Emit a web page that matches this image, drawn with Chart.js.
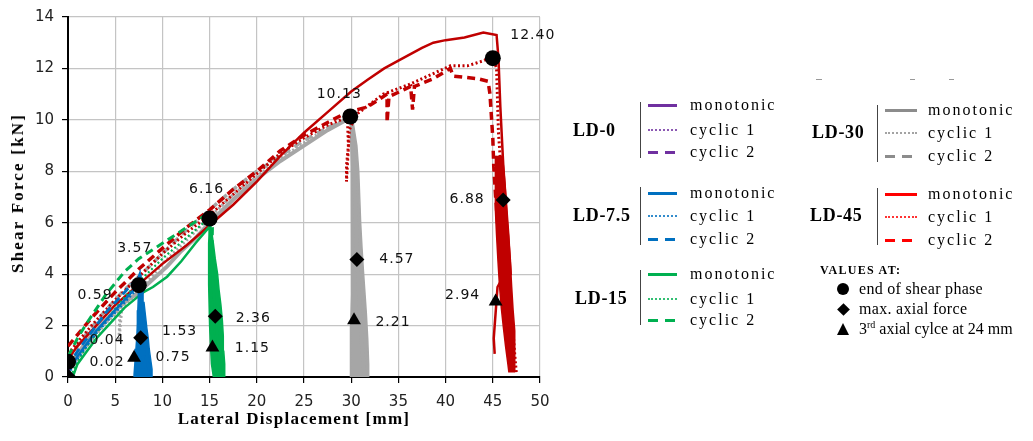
<!DOCTYPE html>
<html>
<head>
<meta charset="utf-8">
<script src="https://cdn.jsdelivr.net/npm/chart.js@4.4.1/dist/chart.umd.min.js"></script>
<style>
body { margin: 0; background: #fff; width: 1033px; height: 441px; overflow: hidden; position: relative; font-family: "Liberation Serif", serif; }
#chart { position: absolute; left: 0; top: 0; }
.t { position: absolute; white-space: nowrap; color: #000; line-height: 20px; height: 20px; }
.ld { font-weight: bold; font-size: 18px; letter-spacing: 0.7px; }
.item { font-size: 16px; letter-spacing: 2px; }
.bar { position: absolute; width: 0; border-left: 1.5px solid #444; }
.sample { position: absolute; height: 0; }
.axt { position: absolute; white-space: nowrap; font-weight: bold; font-size: 17px; letter-spacing: 1.3px; color: #000; }
</style>
</head>
<body>
<canvas id="chart" width="1033" height="441"></canvas>
<div id="legend"></div>
<div class="axt" id="ytitle" style="left:18px; top:193px; letter-spacing:2.2px; transform: translate(-50%, -50%) rotate(-90deg);">Shear Force [kN]</div>
<div class="axt" id="xtitle" style="left:294px; top:419px; transform: translate(-50%, -50%);">Lateral Displacement [mm]</div>
<script>
// ---- data (x = lateral displacement mm, y = shear force kN) ----
const ld0Mono = [[0, 0], [0.2, 0.7]];
const ld0Cyc1 = [[0, 0], [0.1, 0.5]];
const ld0Cyc2 = [[0, 0.1], [0.2, 0.8]];

const ld75Mono = [[0, 0.2], [1, 0.8], [2, 1.3], [3, 1.8], [4, 2.2], [5, 2.6], [6, 3.0], [7, 3.4], [7.6, 4.0],
    [7.8, 3.0], [8.2, 1.5], [8.6, 0]];
const ld75Cyc1 = [[0, 0.1], [1, 0.7], [2, 1.2], [3, 1.7], [4, 2.1], [5, 2.5], [6, 2.9], [7, 3.3], [7.5, 3.6]];
const ld75Cyc2 = [[0, 0.4], [1, 1.0], [2, 1.5], [3, 2.0], [4, 2.5], [5, 2.9], [6, 3.3], [7, 3.7], [7.6, 3.9],
    [7.8, 3.3], [7.7, 2.3], [8.2, 1.2], [7.8, 0.4], [8.4, 0]];
// unloading scatter band after the shear phase (outline, left edge down then right edge up)
const ld75Band = [[7.6, 4.0], [7.5, 3.6], [7.45, 3.1], [7.4, 2.6], [7.35, 2.1], [7.3, 1.6], [7.2, 1.1],
    [7.1, 0.6], [7.0, 0.1], [7.0, 0], [8.95, 0], [8.9, 0.3], [8.75, 0.7], [8.6, 1.1], [8.5, 1.5],
    [8.35, 1.9], [8.2, 2.4], [8.05, 2.9], [7.95, 3.3], [7.8, 3.7], [7.7, 4.0]];

const ld15Mono = [[0.5, 0], [1, 0.5], [2, 1.0], [3, 1.5], [4, 1.9], [5, 2.3], [6, 2.7], [7, 3.0], [8, 3.3],
    [9, 3.5], [10.5, 3.9], [12, 4.5], [13.5, 5.2], [15, 5.85], [15.2, 4.5], [15.6, 2.5], [16.0, 0.8], [16.2, 0]];
const ld15Cyc1 = [[0.3, 0], [1, 0.6], [2, 1.2], [4, 2.2], [6, 3.1], [7.5, 3.7], [10, 4.6], [12.5, 5.4],
    [15, 6.2], [15.2, 5.5], [15.1, 3.5], [15.6, 1.5], [16.0, 0.2]];
const ld15Cyc2 = [[0, 0.8], [1, 1.5], [2, 2.1], [4, 3.2], [6, 4.1], [7.5, 4.6], [10, 5.2], [12.5, 5.8],
    [15, 6.4], [15.3, 5.8], [15.2, 4.0], [15.8, 2.0], [15.5, 0.8], [16.3, 0.1]];
const ld15Band = [[15.0, 5.9], [14.9, 5.2], [14.9, 4.4], [14.9, 3.6], [14.95, 2.8], [15.0, 2.0], [15.1, 1.2],
    [15.2, 0.5], [15.4, 0], [16.6, 0], [16.6, 0.5], [16.5, 1.0], [16.45, 1.6], [16.35, 2.2], [16.2, 2.8],
    [16.0, 3.4], [15.85, 4.0], [15.6, 4.6], [15.4, 5.2], [15.2, 5.7], [15.1, 5.9]];

const ld30Mono = [[0, 0.4], [1, 0.9], [2, 1.4], [3, 1.8], [4, 2.2], [5, 2.6], [6, 2.9], [7.5, 3.3], [9, 3.8],
    [10.5, 4.3], [12, 4.9], [13.5, 5.4], [15, 6.0], [17.5, 6.9], [20, 7.7], [22.5, 8.4], [25, 9.0],
    [27.5, 9.6], [30, 10.1], [30.3, 8.0], [30.6, 5.0], [31.0, 2.0], [31.4, 0]];
const ld30Cyc1 = [[0, 0.2], [2, 1.2], [4, 2.1], [5.5, 2.6], [5.4, 1.4], [5.7, 2.7], [7.5, 3.3], [10, 4.4],
    [12.5, 5.3], [15, 6.2], [17.5, 7.1], [20, 7.8], [22.5, 8.5], [25, 9.1], [27.5, 9.7], [30, 10.1]];
const ld30Cyc2 = [[0, 0.7], [2, 1.7], [4, 2.6], [6, 3.4], [7.5, 3.9], [10, 4.8], [12.5, 5.7], [15, 6.5],
    [17.5, 7.3], [20, 8.0], [22.5, 8.6], [25, 9.2], [27.5, 9.7], [29.5, 10.0]];
const ld30Band = [[29.9, 10.1], [29.95, 9.2], [30.0, 8.2], [30.05, 7.0], [30.0, 5.8], [30.05, 4.5], [30.0, 3.2],
    [29.95, 2.0], [29.9, 0.8], [29.95, 0], [31.8, 0], [31.85, 0.5], [31.75, 1.5], [31.6, 2.5], [31.45, 3.3],
    [31.3, 4.1], [31.15, 5.0], [31.0, 6.0], [30.9, 7.0], [30.8, 8.0], [30.6, 9.0], [30.3, 9.7], [30.1, 10.1]];

const ld45Mono = [[0, 0.7], [1, 1.2], [2, 1.6], [3.5, 2.2], [5, 2.8], [7.5, 3.6], [10, 4.4], [12.5, 5.1],
    [15, 5.9], [17.5, 6.7], [20, 7.6], [22.5, 8.6], [25, 9.5], [27.5, 10.3], [30, 11.1], [31.7, 11.55],
    [33.5, 12.0], [35, 12.3], [37.5, 12.8], [38.7, 13.0], [40, 13.1], [42, 13.2], [44, 13.4], [45.4, 13.3],
    [45.6, 12.4], [45.8, 10.5], [46.1, 8.3], [46.5, 6.0], [46.8, 4.6], [46.9, 4.0], [46.6, 3.9],
    [46.1, 3.9], [45.5, 3.5], [45.3, 2.5], [45.1, 1.5], [45.2, 0.9]];
const ld45Cyc1 = [[0, 0.9], [2.5, 2.0], [5, 3.0], [7.5, 3.9], [10, 4.8], [12.5, 5.6], [15, 6.3], [17.5, 7.1],
    [20, 7.9], [22.5, 8.7], [25, 9.3], [27.5, 9.8], [29.6, 10.1], [29.7, 9.0], [29.5, 8.2], [29.5, 7.6],
    [29.8, 9.6], [30.5, 10.2], [33.4, 11.0], [36.3, 11.4], [38.7, 11.8], [40.5, 12.1], [42.3, 12.1],
    [44, 12.3], [45, 12.45], [45.4, 12.0], [45.6, 9.5], [46.1, 6.9], [46.6, 4.5], [47.0, 2.5],
    [47.3, 1.0], [47.5, 0.1]];
const ld45Cyc2 = [[0, 1.2], [2.5, 2.3], [5, 3.3], [7.5, 4.2], [10, 5.0], [12.5, 5.8], [15, 6.5], [17.5, 7.3],
    [20, 8.0], [22.5, 8.8], [25, 9.4], [27.5, 9.9], [29.6, 10.3], [31.7, 10.5], [33.8, 11.0], [33.8, 9.9],
    [34.0, 10.9], [36.3, 11.3], [36.5, 10.4], [36.7, 11.3], [38.7, 11.6], [40.5, 12.0], [40.8, 11.7],
    [43.4, 11.6], [44.5, 11.5], [44.7, 11.0], [45.0, 9.3], [45.1, 8.2], [45.3, 7.0], [45.6, 5.5],
    [46.0, 3.5], [46.5, 1.5], [46.8, 0.6]];
const ld45Band = [[45.3, 8.6], [45.25, 7.5], [45.3, 6.5], [45.4, 5.5], [45.55, 4.5], [45.7, 3.6], [45.9, 2.7],
    [46.1, 2.0], [46.35, 1.2], [46.6, 0.5], [46.7, 0.2], [47.35, 0.2], [47.35, 1.0], [47.3, 1.8],
    [47.15, 2.6], [47.0, 3.5], [46.85, 4.5], [46.7, 5.5], [46.5, 6.5], [46.3, 7.5], [46.1, 8.3], [45.9, 8.6]];

// marked values: LD-0, LD-7.5, LD-15, LD-30, LD-45
const shearEndX = [0, 7.5, 15.0, 29.9, 45.0];
const shearEndY = [0.59, 3.57, 6.16, 10.13, 12.40];
const maxAxialX = [0, 7.7, 15.6, 30.6, 46.1];
const maxAxialY = [0.04, 1.53, 2.36, 4.57, 6.88];
const thirdCycleX = [0, 7.0, 15.3, 30.3, 45.3];
const thirdCycleY = [0.02, 0.75, 1.15, 2.21, 2.94];

const xTicks = [0, 5, 10, 15, 20, 25, 30, 35, 40, 45, 50];
const yTicks = [0, 2, 4, 6, 8, 10, 12, 14];

// label offsets in px from each marker
const shearEndOff = [[27, -66], [-4, -37], [-3, -29], [-11, -22], [40, -23]];
const maxAxialOff = [[39, -36], [39, -6], [38, 2], [40, 0], [-36, -1]];
const thirdCycleOff = [[39, -14], [39, 0], [40, 1], [39, 2], [-33, -6]];

const ctx = document.getElementById("chart");

const pts = (arr) => arr.map((p) => ({ x: p[0], y: p[1] }));
const zipPts = (xs, ys) => xs.map((x, i) => ({ x: x, y: ys[i] }));

function curve(data, color, kind, order, width) {
    return {
        data: pts(data),
        showLine: true,
        borderColor: color,
        backgroundColor: color,
        borderWidth: width || 2.2,
        borderDash: kind === "dot" ? [2, 2.5] : kind === "dash" ? [8, 5] : [],
        pointRadius: 0,
        tension: 0,
        order: order,
    };
}
function band(data, color, order) {
    return {
        data: pts(data),
        showLine: true,
        fill: "shape",
        borderColor: color,
        backgroundColor: color,
        borderWidth: 1.5,
        pointRadius: 0,
        tension: 0,
        order: order,
    };
}
function markers(xs, ys, style, r, off) {
    return {
        data: zipPts(xs, ys),
        showLine: false,
        pointStyle: style,
        pointRadius: r,
        pointBackgroundColor: "#000",
        pointBorderColor: "#000",
        pointBorderWidth: 0,
        order: 0,
        labelOffsets: off,
    };
}

const PURPLE = "#7030A0", BLUE = "#0070C0", GREEN = "#00B050", GRAY = "#A6A6A6", RED = "#C00000";

const datasets = [
    markers(shearEndX, shearEndY, "circle", 8, shearEndOff),
    markers(maxAxialX, maxAxialY, "rectRot", 7.5, maxAxialOff),
    markers(thirdCycleX, thirdCycleY, "triangle", 8, thirdCycleOff),
    curve(ld0Mono, PURPLE, "solid", 1),
    curve(ld0Cyc1, PURPLE, "dot", 1),
    curve(ld0Cyc2, PURPLE, "dash", 1),
    curve(ld75Mono, BLUE, "solid", 2, 2.5),
    curve(ld75Cyc1, BLUE, "dot", 2),
    curve(ld75Cyc2, BLUE, "dash", 2, 3),
    band(ld75Band, BLUE, 2.5),
    curve(ld15Mono, GREEN, "solid", 3, 2.5),
    curve(ld15Cyc1, GREEN, "dot", 3),
    curve(ld15Cyc2, GREEN, "dash", 3, 3),
    band(ld15Band, GREEN, 3.5),
    curve(ld45Mono, RED, "solid", 4, 2.5),
    curve(ld45Cyc1, RED, "dot", 4, 3),
    curve(ld45Cyc2, RED, "dash", 4, 3.5),
    band(ld45Band, RED, 4.5),
    curve(ld30Mono, GRAY, "solid", 5, 4),
    curve(ld30Cyc1, GRAY, "dot", 5, 3),
    curve(ld30Cyc2, GRAY, "dash", 5, 3.5),
    band(ld30Band, GRAY, 5.5),
];

const valueLabels = {
    id: "valueLabels",
    afterDatasetsDraw(chart) {
        const c = chart.ctx;
        c.save();
        c.font = "14px 'DejaVu Sans'";
        c.letterSpacing = "1px";
        c.fillStyle = "#111";
        c.textAlign = "center";
        c.textBaseline = "middle";
        chart.data.datasets.forEach((ds, i) => {
            if (!ds.labelOffsets) return;
            chart.getDatasetMeta(i).data.forEach((el, j) => {
                const off = ds.labelOffsets[j];
                c.fillText(ds.data[j].y.toFixed(2), el.x + off[0], el.y + off[1]);
            });
        });
        c.restore();
    },
};

const tickFont = { family: "'DejaVu Sans'", size: 15 };

new Chart(ctx, {
    type: "scatter",
    data: { datasets: datasets },
    options: {
        responsive: false,
        animation: false,
        layout: { padding: { left: 0, right: 493, top: 17, bottom: 0 } },
        plugins: { legend: { display: false }, tooltip: { enabled: false } },
        scales: {
            x: {
                type: "linear",
                min: 0,
                max: 50,
                afterBuildTicks: (s) => { s.ticks = xTicks.map((v) => ({ value: v })); },
                afterFit: (s) => { s.height = 64; },
                ticks: { font: tickFont, color: "#222", padding: 10 },
                grid: { color: "#c4c4c4", lineWidth: 1.2, tickColor: "#000", tickLength: 6 },
                border: { color: "#000", width: 2 },
            },
            y: {
                type: "linear",
                min: 0,
                max: 14,
                afterBuildTicks: (s) => { s.ticks = yTicks.map((v) => ({ value: v })); },
                afterFit: (s) => { s.width = 68; },
                ticks: { font: tickFont, color: "#222", padding: 8 },
                grid: { color: "#c4c4c4", lineWidth: 1.2, tickColor: "#000", tickLength: 6 },
                border: { color: "#000", width: 2 },
            },
        },
    },
    plugins: [valueLabels],
});

// ---- legend ----
const groups = [
    { name: "LD-0", color: "#7030A0", lx: 573, ly: 130, bx: 640, bt: 102, bb: 158, rows: [105, 130, 152], sx: 648, sw: 29, tx: 690 },
    { name: "LD-7.5", color: "#0070C0", lx: 573, ly: 215, bx: 640, bt: 187, bb: 245, rows: [193, 216, 239], sx: 648, sw: 29, tx: 690 },
    { name: "LD-15", color: "#00B050", lx: 575, ly: 298, bx: 640, bt: 270, bb: 325, rows: [274, 299, 320], sx: 648, sw: 29, tx: 690 },
    { name: "LD-30", color: "#8C8C8C", lx: 812, ly: 132, bx: 877, bt: 105, bb: 162, rows: [110, 133, 156], sx: 885, sw: 32, tx: 928 },
    { name: "LD-45", color: "#FF0000", lx: 810, ly: 215, bx: 877, bt: 188, bb: 245, rows: [194, 217, 240], sx: 885, sw: 32, tx: 928 },
];
const itemNames = ["monotonic", "cyclic 1", "cyclic 2"];
const leg = document.getElementById("legend");
let html = "";
groups.forEach((g) => {
    html += `<div class="t ld" style="left:${g.lx}px;top:${g.ly - 10}px">${g.name}</div>`;
    html += `<div class="bar" style="left:${g.bx}px;top:${g.bt}px;height:${g.bb - g.bt}px"></div>`;
    g.rows.forEach((ry, k) => {
        let st;
        if (k === 0) st = `border-top:3px solid ${g.color};top:${ry - 1.5}px;width:${g.sw}px`;
        else if (k === 1) st = `border-top:2px dotted ${g.color};top:${ry - 1}px;width:${g.sw}px;opacity:0.8`;
        else st = `height:3px;background:repeating-linear-gradient(to right, ${g.color} 0 10px, transparent 10px 17px);top:${ry - 1.5}px;width:${g.sw - 2}px`;
        html += `<div class="sample" style="left:${g.sx}px;${st}"></div>`;
        html += `<div class="t item" style="left:${g.tx}px;top:${ry - 10}px">${itemNames[k]}</div>`;
    });
});
html += `<div class="t" style="left:820px;top:260px;font-weight:bold;font-size:12px;letter-spacing:1.3px">VALUES AT:</div>`;
html += `<div style="position:absolute;left:837px;top:283px;width:12px;height:12px;border-radius:50%;background:#000"></div>`;
html += `<div style="position:absolute;left:838.5px;top:304.5px;width:9px;height:9px;background:#000;transform:rotate(45deg)"></div>`;
html += `<div style="position:absolute;left:837px;top:323px;width:0;height:0;border-left:6px solid transparent;border-right:6px solid transparent;border-bottom:12px solid #000"></div>`;
html += `<div class="t" style="left:859px;top:279px;font-size:16px;letter-spacing:0.3px">end of shear phase</div>`;
html += `<div class="t" style="left:859px;top:299px;font-size:16px;letter-spacing:0.3px">max. axial force</div>`;
html += `<div class="t" style="left:859px;top:319px;font-size:16px;letter-spacing:0px">3<sup style="font-size:10px;line-height:0">rd</sup> axial cylce at 24 mm</div>`;
html += `<div style="position:absolute;left:816px;top:79px;width:6px;height:1px;background:#999"></div>`;
html += `<div style="position:absolute;left:910px;top:79px;width:5px;height:1px;background:#999"></div>`;
html += `<div style="position:absolute;left:949px;top:79px;width:5px;height:1px;background:#999"></div>`;
leg.innerHTML = html;
</script>
</body>
</html>
